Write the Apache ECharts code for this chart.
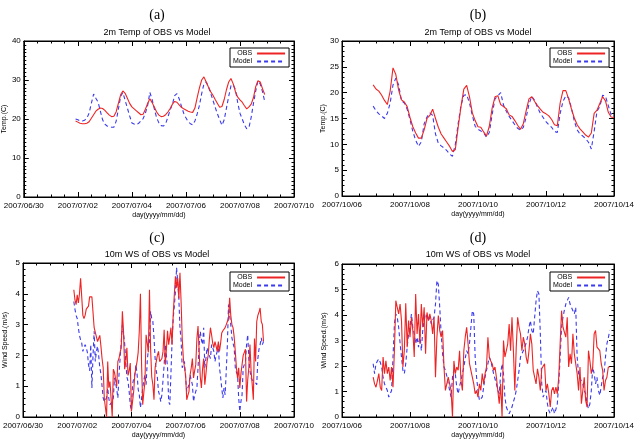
<!DOCTYPE html>
<html><head><meta charset="utf-8">
<script src="https://cdn.jsdelivr.net/npm/echarts@6/dist/echarts.min.js"></script>
<style>html,body{margin:0;padding:0;background:#fff}#c{width:637px;height:440px}</style>
</head><body><div id="c"></div>
<script>
const FONT = 'Liberation Sans';
const SERIF = 'Liberation Serif';

const panelLetters = ['(a)', '(b)', '(c)', '(d)'];
const panelTitles = ['2m Temp of OBS vs Model', '2m Temp of OBS vs Model', '10m WS of OBS vs Model', '10m WS of OBS vs Model'];
const yNames = ['Temp.(C)', 'Temp.(C)', 'Wind Speed.(m/s)', 'Wind Speed.(m/s)'];
const xName = 'day(yyyy/mm/dd)';
const seriesNames = ['OBS', 'Model'];

const tickLabelsJul = ['2007/06/30', '2007/07/02', '2007/07/04', '2007/07/06', '2007/07/08', '2007/07/10'];
const tickLabelsOct = ['2007/10/06', '2007/10/08', '2007/10/10', '2007/10/12', '2007/10/14'];

// day numbers (days since 1970-01-01, UTC)
const dayJul = Date.UTC(2007, 5, 30) / 864e5;   // 2007/06/30
const dayOct = Date.UTC(2007, 9, 6) / 864e5;    // 2007/10/06

// (a) 2m temperature, July, 2-hourly from 2007/07/01 22:00
const tempA_obs = [19.5,19.2,18.9,18.8,18.8,18.9,19.3,20.2,21.1,22.0,22.5,22.8,
22.7,22.2,21.6,21.0,20.6,20.7,21.8,24.0,26.2,27.2,26.6,25.3,
24.0,23.1,22.6,22.1,21.6,21.1,21.2,22.5,24.0,25.2,24.2,23.0,
21.8,21.0,20.6,20.7,21.1,21.8,22.7,23.8,24.5,24.3,23.6,23.0,
22.6,22.3,22.0,21.8,21.7,22.8,25.5,28.0,30.0,30.8,29.5,28.2,
27.0,26.1,25.0,24.0,23.0,23.2,25.0,27.5,29.5,30.4,29.0,27.0,
25.6,24.9,24.3,23.4,22.6,23.1,23.8,25.5,28.3,29.8,29.5,27.8,
26.3];
const tempA_model = [20.0,19.8,19.5,19.5,19.7,20.2,21.5,24.0,26.4,25.3,24.3,22.0,
19.8,18.7,18.2,18.0,17.9,17.9,19.4,22.5,25.8,26.8,24.8,22.8,
20.8,19.0,18.7,18.5,18.9,19.5,20.1,21.5,23.5,26.8,25.0,22.5,
20.3,19.0,18.3,18.2,18.8,20.5,22.3,23.8,26.0,26.5,25.2,23.3,
21.5,20.3,19.3,18.8,18.5,19.5,21.3,23.5,26.5,29.0,29.5,28.3,
26.6,24.8,23.0,21.3,19.8,18.4,19.8,22.8,25.8,28.5,28.8,27.5,
24.2,21.5,20.0,18.5,17.5,17.8,20.5,24.0,27.2,29.8,29.0,27.0,
24.5];

// (b) 2m temperature, October, 2-hourly from 2007/10/06 22:00
const tempB_obs = [21.5,20.7,20.3,19.5,18.5,17.7,20.3,24.8,23.5,20.5,18.6,18.2,
17.3,15.2,13.4,12.2,11.2,11.2,12.8,15.0,15.6,16.8,15.0,13.3,
12.0,11.2,10.4,9.6,8.6,9.0,13.3,17.3,20.7,21.4,19.2,16.1,
14.6,13.4,13.3,12.4,11.6,13.5,17.0,19.2,19.4,17.7,17.3,16.9,
15.7,15.4,14.6,13.7,12.9,14.0,16.5,18.8,19.2,18.3,17.5,16.8,
16.2,15.9,15.5,14.8,13.8,13.6,18.0,20.4,20.4,18.8,16.8,15.1,
13.8,13.0,12.4,11.8,11.4,12.2,16.0,16.6,17.9,19.2,18.4,16.2,
15.3,15.2];
const tempB_model = [17.4,16.5,15.9,15.5,15.0,16.0,18.0,21.5,22.8,21.5,18.4,18.0,
16.8,14.8,12.5,10.8,9.6,10.5,14.0,15.3,16.1,15.6,12.0,10.2,
9.7,9.3,8.8,8.1,7.7,10.0,14.0,17.5,19.5,19.6,18.0,15.6,
13.5,12.9,12.6,12.2,11.4,12.3,15.8,18.8,19.4,20.0,17.6,16.4,
15.4,14.6,13.8,13.1,12.7,13.3,15.2,17.8,19.3,18.5,17.2,16.0,
15.2,14.4,13.8,13.3,12.5,12.3,16.0,18.3,19.4,19.0,17.0,14.5,
12.8,12.0,11.6,11.1,10.4,9.1,12.5,16.4,17.3,19.5,19.3,17.5,
15.7,15.3];

// (c) 10m wind speed, July, hourly from 2007/07/01 21:00
const wsC_obs = [4.13,3.8,3.65,3.97,3.7,4.0,4.5,4.53,3.3,3.2,
3.3,3.5,3.45,3.6,3.9,3.85,3.9,3.9,2.9,2.9,
2.6,2.45,2.55,2.65,2.3,1.9,1.6,0.6,0.3,0.0,
1.8,0.95,1.15,0.6,0.0,1.55,1.45,1.4,1.0,1.8,
1.9,2.1,2.25,3.43,2.8,1.55,1.8,2.25,1.35,1.5,
1.75,0.18,0.5,0.83,1.37,1.6,1.8,2.1,2.8,4.0,
1.7,0.4,0.8,1.15,2.67,2.4,2.1,4.13,2.2,1.3,
1.05,0.56,1.6,1.8,2.0,2.13,1.8,1.85,1.9,2.13,
2.83,1.7,2.2,2.8,2.35,2.6,2.9,2.35,3.3,3.97,
4.57,4.2,4.5,3.85,4.68,3.75,2.55,1.9,1.6,1.37,
0.56,0.7,0.83,1.37,1.6,1.9,1.27,1.5,1.7,2.55,
2.95,2.13,1.3,0.94,1.55,1.9,1.05,1.4,1.8,2.0,
2.5,2.9,2.67,2.4,2.25,2.45,2.3,2.13,2.45,2.13,
2.4,2.73,2.8,2.85,2.9,3.0,3.1,3.2,3.87,3.3,
3.0,2.9,2.6,2.13,1.6,1.27,1.6,0.94,1.4,1.7,
2.0,2.1,2.2,0.5,1.2,1.6,2.35,1.5,1.05,0.56,
2.55,1.8,3.1,3.3,3.4,3.54,3.1,3.0,2.45];
const wsC_model = [3.75,3.5,3.3,3.2,2.9,2.65,2.5,2.4,2.13,2.25,
2.35,2.25,2.1,1.7,1.5,2.35,0.94,2.0,2.78,1.8,
2.13,2.3,2.0,1.6,1.4,1.0,0.62,0.5,0.55,0.62,
0.94,0.6,0.4,0.35,0.5,0.62,1.27,1.1,0.9,0.62,
1.37,1.9,2.45,3.0,2.7,2.4,1.8,1.3,1.16,0.83,
0.4,0.18,1.05,1.25,1.37,1.7,1.4,0.9,0.72,0.3,
0.6,0.94,1.2,1.37,1.05,1.8,2.2,2.45,3.43,3.2,
3.1,2.57,1.9,1.5,1.27,0.83,0.7,0.5,0.72,1.2,
1.7,2.35,2.0,1.6,0.5,0.4,1.4,2.45,3.2,3.6,
4.08,4.85,4.4,3.86,2.9,2.5,1.6,1.7,1.8,1.27,
0.83,0.95,1.05,1.37,1.2,1.05,0.5,0.7,0.83,0.94,
1.6,2.35,2.78,2.5,2.35,2.9,1.6,1.9,2.25,2.13,
2.0,1.9,2.35,2.25,2.13,1.8,2.0,2.13,2.35,1.6,
1.3,0.94,0.62,0.94,0.72,1.5,2.35,3.65,3.3,3.0,
2.57,2.4,2.25,1.6,1.45,1.37,0.62,0.18,0.5,0.72,
1.6,1.7,1.8,2.35,2.67,1.9,1.5,1.27,1.2,1.16,
1.16,1.1,1.05,1.9,2.2,2.35,2.57,2.35,2.45];

// (d) 10m wind speed, October, hourly from 2007/10/06 22:00
const wsD_obs = [1.56,1.3,1.17,1.43,1.7,1.17,1.04,2.35,1.7,2.2,
1.7,1.96,1.43,1.96,1.17,2.6,4.56,4.3,4.04,4.43,
3.78,1.96,2.6,4.46,2.74,3.78,3.13,3.9,3.39,2.35,
4.82,3.26,4.04,2.87,4.43,3.52,4.3,2.48,4.1,3.78,
4.04,3.78,3.26,3.91,1.56,3.13,3.98,3.39,3.13,3.39,
1.96,1.04,1.04,1.56,1.3,1.04,0.0,2.2,1.7,1.96,
1.83,2.6,1.43,1.04,2.6,3.13,3.52,2.87,2.09,2.09,
1.56,1.3,0.91,1.04,0.78,1.3,1.04,1.7,1.3,1.7,
1.96,3.13,2.35,2.2,2.09,1.83,1.96,1.56,1.04,0.52,
1.3,0.0,3.0,2.35,2.6,2.87,3.65,2.6,3.91,2.6,
1.04,2.74,3.91,3.52,3.26,2.6,3.13,2.87,2.35,2.09,
2.6,3.26,2.87,1.83,1.56,1.3,1.89,1.56,1.04,1.89,
1.96,2.09,1.04,1.3,0.91,0.39,1.04,1.17,0.91,1.17,
0.91,1.56,2.87,4.17,3.52,3.52,3.13,3.91,1.96,2.48,
2.09,3.26,2.48,2.48,1.7,1.04,1.96,0.52,1.04,1.56,
0.65,0.39,2.6,2.2,1.7,1.96,3.26,3.39,2.74,2.74,
2.6,2.09,1.83,1.04,1.43,1.56,1.96,1.96];
const wsD_model = [2.09,1.7,2.09,2.2,2.28,2.15,1.96,1.56,1.3,1.17,1.04,
0.78,0.78,1.04,2.35,3.65,4.04,3.91,3.52,2.9,2.35,1.83,
1.7,2.09,2.74,3.26,3.52,4.04,3.52,3.26,2.87,3.13,
2.74,3.26,2.6,3.39,3.78,4.04,3.91,3.78,3.91,3.65,3.8,
3.91,4.43,5.35,5.2,4.3,3.26,2.48,1.96,1.83,1.6,1.3,
1.04,0.78,1.56,1.83,1.7,1.17,0.91,1.2,1.43,1.7,1.96,
2.3,2.6,2.48,2.87,3.52,4.17,4.04,2.35,1.56,1.04,0.65,
0.7,0.78,1.17,1.56,1.83,2.09,2.35,2.2,1.96,1.7,1.5,1.3,
1.04,0.91,1.7,2.09,1.7,0.78,0.39,0.25,0.13,0.13,0.39,
0.6,0.78,1.04,1.43,1.83,2.35,2.48,2.6,2.74,2.9,3.13,3.52,
3.78,3.39,3.26,3.91,4.56,4.95,4.82,3.26,1.3,0.78,
0.78,1.04,0.52,0.26,0.13,0.26,0.39,0.13,0.3,0.52,1.3,
2.35,3.52,3.91,4.2,4.43,4.56,4.69,4.43,4.3,4.17,4.04,
4.3,2.35,1.7,1.56,1.4,1.3,1.04,0.91,0.52,0.33,0.52,
1.04,1.96,1.7,1.3,1.56,1.04,0.85,1.2,1.56,1.7,2.35,
2.87,3.1,3.39];

// per-panel settings
const panels = [
  {obs: tempA_obs, model: tempA_model, start: dayJul + 1 + 22/24, stepH: 2, x0: dayJul, xSpan: 10, ticks: tickLabelsJul, yMax: 40, yInt: 10, yMinor: 10},
  {obs: tempB_obs, model: tempB_model, start: dayOct + 22/24, stepH: 2, x0: dayOct, xSpan: 8, ticks: tickLabelsOct, yMax: 30, yInt: 5, yMinor: 5},
  {obs: wsC_obs, model: wsC_model, start: dayJul + 1 + 21/24, stepH: 1, x0: dayJul, xSpan: 10, ticks: tickLabelsJul, yMax: 5, yInt: 1, yMinor: 5},
  {obs: wsD_obs, model: wsD_model, start: dayOct + 22/24, stepH: 1, x0: dayOct, xSpan: 8, ticks: tickLabelsOct, yMax: 6, yInt: 1, yMinor: 5}
];
const grids = [
  {left: 20, top: 41, width: 274, height: 156},
  {left: 342, top: 41, width: 273, height: 155},
  {left: 20, top: 263, width: 274, height: 156},
  {left: 342, top: 264, width: 273, height: 155}
];
const legendPos = [[230, 48], [550, 48], [230, 272], [550, 272]];
const titleCenters = [[157, 15, 33], [478, 15, 33], [157, 238, 255], [478, 238, 255]];

const RED = '#ee2424';
const BLUE = '#3a3aee';

const option = {
  animation: false,
  backgroundColor: '#fff',
  textStyle: {fontFamily: FONT},
  grid: grids.map(g => Object.assign({show: true, borderColor: '#000', borderWidth: 1, backgroundColor: 'transparent'}, g)),
  xAxis: [], yAxis: [], series: [], legend: [], graphic: []
};

const toPairs = (vals, start, stepH) => vals.map((v, i) => [start + i * stepH / 24, v]);

panels.forEach((p, i) => {
  const tickStyle = {color: '#000', width: 1};
  const xCommon = {
    type: 'value', gridIndex: i, min: p.x0, max: p.x0 + p.xSpan, interval: 2,
    splitLine: {show: false},
    axisLine: {show: true, onZero: false, lineStyle: {color: '#000', width: 1}},
    axisTick: {show: true, inside: true, length: 5, lineStyle: tickStyle},
    minorTick: {show: true, splitNumber: 4, length: 2.5, lineStyle: tickStyle}
  };
  option.xAxis.push(Object.assign({}, xCommon, {
    position: 'bottom',
    name: xName, nameLocation: 'middle', nameGap: 15,
    nameTextStyle: {fontSize: 7, color: '#000', fontFamily: FONT},
    axisLabel: {show: true, fontSize: 8, color: '#000', margin: 5, fontFamily: FONT,
      showMinLabel: true, showMaxLabel: true, hideOverlap: false,
      formatter: v => p.ticks[Math.round((v - p.x0) / 2)] || ''}
  }));
  option.xAxis.push(Object.assign({}, xCommon, {position: 'top', axisLabel: {show: false}}));

  const yCommon = {
    type: 'value', gridIndex: i, min: 0, max: p.yMax, interval: p.yInt,
    splitLine: {show: false},
    axisLine: {show: true, onZero: false, lineStyle: {color: '#000', width: 1}},
    axisTick: {show: true, inside: true, length: 5, lineStyle: tickStyle},
    minorTick: {show: true, splitNumber: p.yMinor, length: 2.5, lineStyle: tickStyle}
  };
  option.yAxis.push(Object.assign({}, yCommon, {
    position: 'left',
    name: yNames[i], nameLocation: 'middle', nameGap: 14, nameRotate: 90,
    nameTextStyle: {fontSize: 7, color: '#000', fontFamily: FONT},
    axisLabel: {show: true, fontSize: 8, color: '#000', margin: 3, fontFamily: FONT}
  }));
  option.yAxis.push(Object.assign({}, yCommon, {position: 'right', axisLabel: {show: false}}));

  option.series.push({
    name: seriesNames[0], type: 'line', xAxisIndex: 2 * i, yAxisIndex: 2 * i,
    data: toPairs(p.obs, p.start, p.stepH), symbol: 'none', showSymbol: false,
    lineStyle: {color: RED, width: 1.1}, itemStyle: {color: RED}, clip: true, z: 3
  });
  option.series.push({
    name: seriesNames[1], type: 'line', xAxisIndex: 2 * i, yAxisIndex: 2 * i,
    data: toPairs(p.model, p.start, p.stepH), symbol: 'none', showSymbol: false,
    lineStyle: {color: BLUE, width: 1.1, type: [4, 3]}, itemStyle: {color: BLUE}, clip: true, z: 2
  });

  option.legend.push({
    left: legendPos[i][0], top: legendPos[i][1], orient: 'vertical', align: 'right',
    itemWidth: 28, itemHeight: 8, itemGap: 1, padding: [2, 3, 2, 3],
    borderColor: '#000', borderWidth: 1, backgroundColor: '#fff',
    itemStyle: {opacity: 0, borderWidth: 0},
    textStyle: {fontSize: 7, color: '#000', fontFamily: FONT},
    selectedMode: false,
    data: seriesNames.slice()
  });

  const tc = titleCenters[i];
  option.graphic.push({type: 'text', x: tc[0], y: tc[1], style: {text: panelLetters[i], font: '14px ' + SERIF, fill: '#000', align: 'center', verticalAlign: 'middle'}});
  option.graphic.push({type: 'text', x: tc[0], y: tc[2], style: {text: panelTitles[i], font: '9px ' + FONT, fill: '#000', align: 'center', verticalAlign: 'middle'}});
});

const chart = echarts.init(document.getElementById('c'), null, {renderer: 'canvas'});
chart.setOption(option);
</script></body></html>
